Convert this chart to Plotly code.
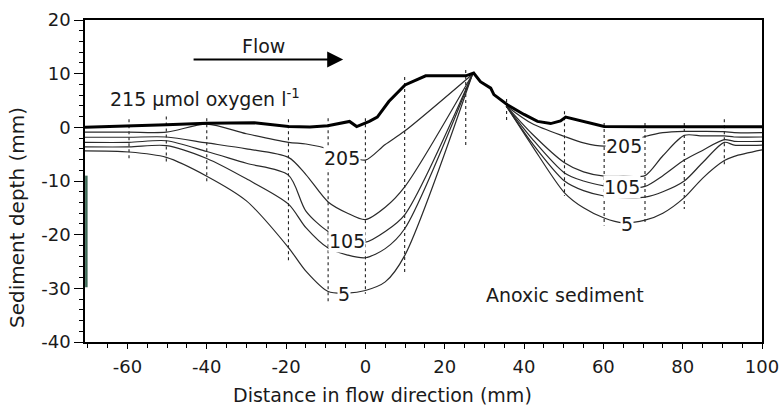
import plotly.graph_objects as go

# ---------------- data ----------------
# sediment surface (215 umol oxygen l-1)
surf_x = [-70.7, -59.6, -50.2, -40, -28, -19.4, -14, -9.5, -4.0, -2.2, 1.0, 3.0, 5.9, 10,
          15.2, 25.3, 27.3, 29, 31.6, 32.4, 35.8, 40, 43.4, 46.7, 49.2, 50.5, 53.5, 60.2,
          70.5, 80.4, 90.5, 100]
surf_y = [0.0, 0.2, 0.5, 0.75, 0.85, 0.15, 0.05, 0.3, 1.1, 0.15, 1.1, 1.9, 4.8, 7.9,
          9.6, 9.6, 10.1, 8.5, 7.3, 6.1, 4.2, 2.4, 1.1, 0.7, 1.2, 1.9, 1.4, 0.15,
          0.1, 0.1, 0.1, 0.1]

# oxygen isopleths, upstream of the ridge crest
x_left = [-70.7, -59.6, -50.2, -40, -30, -19.4, -15, -9.4, -4.5, 0, 5, 9.9, 27]
o205_left = [-0.9, -0.9, -0.9, 0.6, -1.2, -2.8, -3.1, -4.0, -5.2, -6.1, -3.2, -0.7, 9.9]
o155_left = [-1.85, -1.85, -1.8, -2.9, -4.0, -5.6, -8.8, -13.9, -16.0, -17.2, -14.9, -11.1, 9.9]
o105_left = [-2.8, -2.8, -2.5, -4.5, -6.7, -8.9, -15.6, -19.4, -20.8, -21.4, -19.4, -16.3, 9.9]
o55_left = [-3.65, -3.65, -3.4, -5.8, -9.6, -14.3, -18.7, -22.5, -23.8, -24.3, -22.6, -18.9, 9.9]
o5_left = [-4.4, -4.6, -5.6, -9.1, -13.7, -22.4, -26.8, -30.6, -30.9, -30.4, -28.8, -23.9, 9.9]

# oxygen isopleths, downstream of the ridge crest
x_right = [35.5, 42, 50.2, 55, 60.2, 65, 70.5, 75, 80.4, 85, 90.5, 93, 100]
o205_right = [4.0, 0.7, -1.7, -2.9, -3.5, -2.9, -1.7, -1.0, -0.75, -0.75, -0.8, -1.0, -1.0]
o155_right = [4.0, -1.2, -6.6, -8.3, -9.1, -9.1, -9.0, -5.3, -1.5, -1.6, -1.6, -1.8, -1.8]
o105_right = [4.0, -2.1, -8.5, -10.0, -10.9, -11.3, -11.0, -9.0, -6.1, -4.3, -2.3, -2.6, -2.6]
o55_right = [4.0, -2.9, -10.0, -11.8, -12.8, -13.1, -13.0, -12.0, -10.0, -6.6, -2.8, -3.3, -3.3]
o5_right = [4.0, -3.4, -12.2, -15.0, -16.9, -17.8, -17.3, -16.0, -13.1, -9.5, -6.2, -5.4, -4.2]

# microelectrode profile positions (dotted verticals)
profile_x = [-59.6, -50.2, -40, -19.4, -9.4, 0, 9.9, 25.3, 35.6, 50.2, 60.2, 70.5, 80.4, 90.5]
profile_top = [1.5, 2.0, 1.7, 1.5, 1.7, 1.7, 9.4, 10.7, 5.3, 3.0, 0.8, 0.8, 0.8, 1.5]
profile_bottom = [-6.0, -6.9, -10.6, -24.8, -32.8, -31.0, -27.0, -3.5, 1.1, -12.8, -18.3, -17.9, -15.2, -6.9]

# contour labels
label_text = ["205", "105", "5", "205", "105", "5"]
label_x = [-5.9, -4.6, -5.5, 65.2, 64.7, 66.0]
label_y = [-5.7, -21.1, -31.0, -3.5, -11.05, -18.0]

x_tick_vals = [-60, -40, -20, 0, 20, 40, 60, 80, 100]
x_tick_text = ["-60", "-40", "-20", "0", "20", "40", "60", "80", "100"]
y_tick_vals = [-40, -30, -20, -10, 0, 10, 20]
y_tick_text = ["-40", "-30", "-20", "-10", "0", "10", "20"]

FONT = "DejaVu Sans, Liberation Sans, Arial, sans-serif"
INK = "#1a1a1a"

fig = go.Figure()

# dotted profile lines
dx, dy = [], []
for px, t, b in zip(profile_x, profile_top, profile_bottom):
    dx += [px, px, None]
    dy += [t, b, None]
fig.add_trace(go.Scatter(x=dx, y=dy, mode="lines",
                         line=dict(color="#222222", width=1.1, dash="dot"),
                         hoverinfo="skip", showlegend=False))

# isopleths
iso = [
    (o205_left, o205_right), (o155_left, o155_right), (o105_left, o105_right),
    (o55_left, o55_right), (o5_left, o5_right),
]
for yl, yr in iso:
    fig.add_trace(go.Scatter(x=x_left + [None] + x_right, y=yl + [None] + yr,
                             mode="lines", connectgaps=False,
                             line=dict(color="#2a2a2a", width=1.2, shape="spline", smoothing=0.8),
                             hoverinfo="skip", showlegend=False))

# sediment surface
fig.add_trace(go.Scatter(x=surf_x, y=surf_y, mode="lines",
                         line=dict(color="black", width=3),
                         hoverinfo="skip", showlegend=False))

annotations = []
for t, lx, ly in zip(label_text, label_x, label_y):
    annotations.append(dict(x=lx, y=ly, text=t, showarrow=False, bgcolor="white",
                            borderpad=0, font=dict(family=FONT, size=19, color=INK)))

annotations += [
    dict(x=-5.6, y=12.65, ax=-43.7, ay=12.65, xref="x", yref="y", axref="x", ayref="y",
         text="", showarrow=True, arrowhead=2, arrowsize=1.6, arrowwidth=2, arrowcolor="black"),
    dict(x=-25.7, y=15.2, text="Flow", showarrow=False,
         font=dict(family=FONT, size=19, color=INK)),
    dict(x=-64.8, y=5.55, xanchor="left", text="215 μmol oxygen l<sup>-1</sup>", showarrow=False,
         font=dict(family=FONT, size=19, color=INK)),
    dict(x=50.4, y=-31.3, text="Anoxic sediment", showarrow=False,
         font=dict(family=FONT, size=19, color=INK)),
    dict(xref="paper", yref="paper", x=(17 - 85) / 677, y=(342 - 218) / 322,
         xanchor="center", yanchor="middle",
         text="Sediment depth (mm)", textangle=-90, showarrow=False,
         font=dict(family=FONT, size=20, color=INK)),
    dict(xref="paper", yref="paper", x=(382 - 85) / 677, y=(342 - 395) / 322,
         xanchor="center", yanchor="middle",
         text="Distance in flow direction (mm)", showarrow=False,
         font=dict(family=FONT, size=19, color=INK)),
]

fig.update_layout(
    width=780, height=409,
    margin=dict(l=85, r=18, t=20, b=67, autoexpand=False),
    paper_bgcolor="white", plot_bgcolor="white",
    font=dict(family=FONT, size=18, color=INK),
    annotations=annotations,
    shapes=[dict(type="line", xref="x domain", yref="y", x0=0.002, x1=0.002, y0=-9.0, y1=-29.8,
                 line=dict(color="#3f6b58", width=2.5), layer="above")],
    xaxis=dict(range=[-70.7, 100], showgrid=False, zeroline=False, automargin=False,
               showline=True, linecolor="black", linewidth=1.5, mirror=True,
               ticks="outside", ticklen=5, tickwidth=1.2, tickcolor="black",
               tickmode="array", tickvals=x_tick_vals, ticktext=x_tick_text,
               ticklabelstandoff=3,
               minor=dict(dtick=5, tick0=0, ticks="outside", ticklen=4, tickcolor="black", tickwidth=1)),
    yaxis=dict(range=[-40, 20], showgrid=False, zeroline=False, automargin=False,
               showline=True, linecolor="black", linewidth=1.5, mirror=True,
               ticks="outside", ticklen=9, tickwidth=1.2, tickcolor="black",
               tickmode="array", tickvals=y_tick_vals, ticktext=y_tick_text,
               minor=dict(dtick=2, tick0=0, ticks="outside", ticklen=4, tickcolor="black", tickwidth=1)),
)

fig.write_html("out.html")
